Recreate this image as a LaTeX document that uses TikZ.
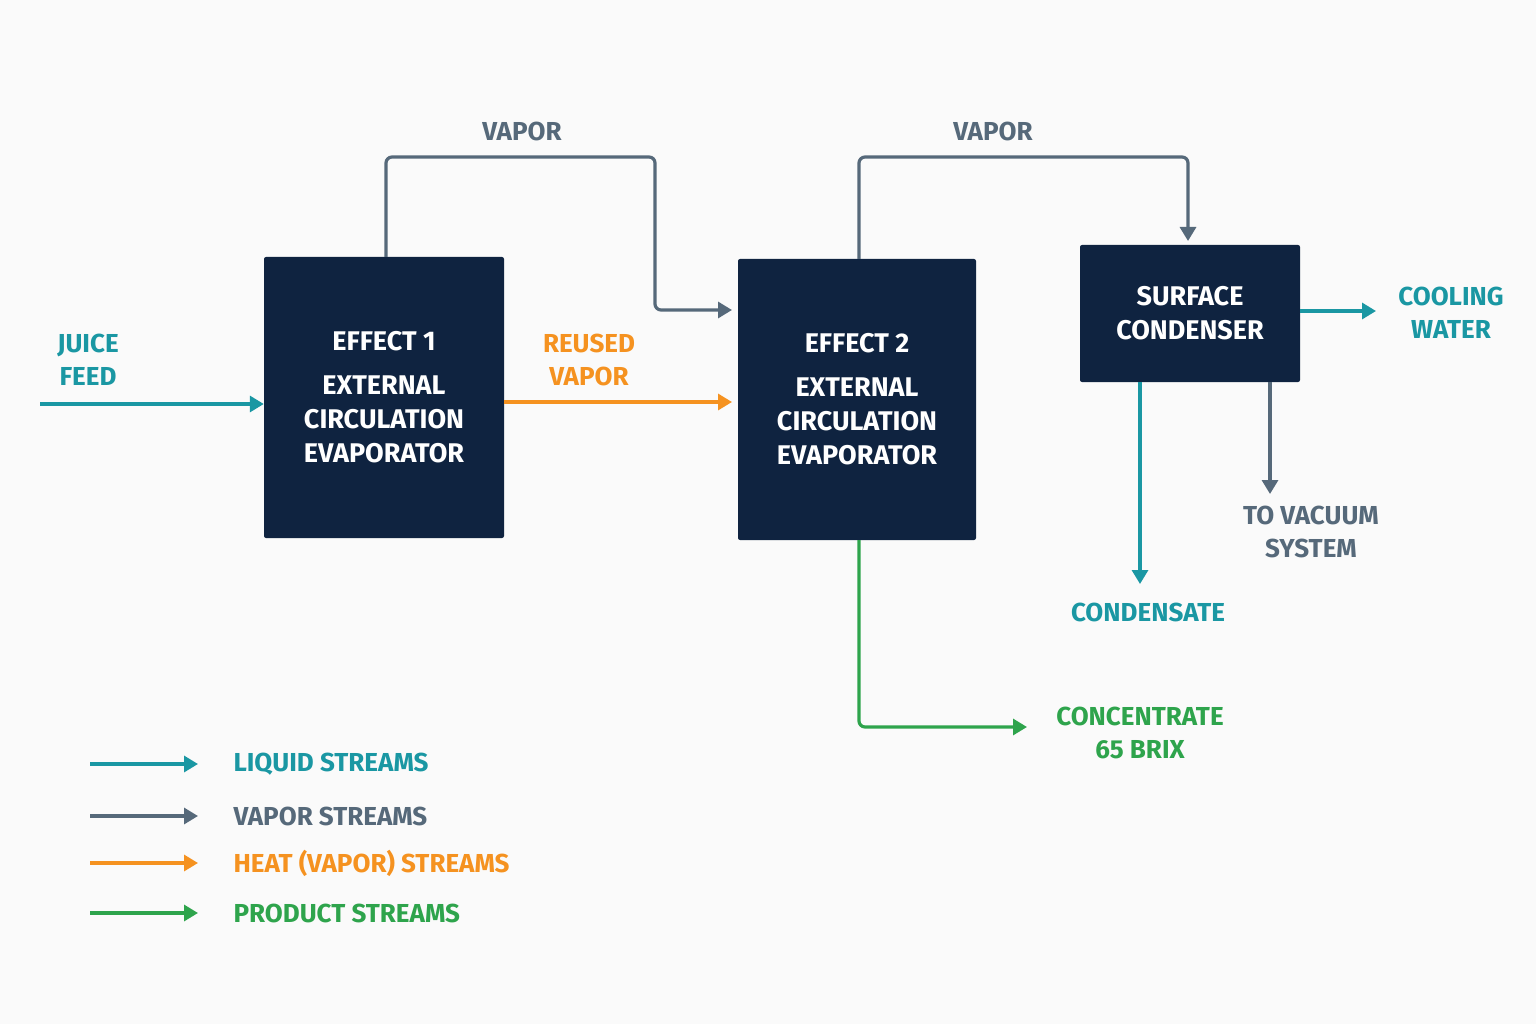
\documentclass[tikz,border=0pt]{standalone}
\usepackage{fontspec}
\setmainfont{Fira Sans}
\usetikzlibrary{arrows.meta}
\definecolor{navy}{HTML}{0F2340}
\definecolor{teal}{HTML}{1A97A3}
\definecolor{vgray}{HTML}{56697A}
\definecolor{orng}{HTML}{F59220}
\definecolor{grn}{HTML}{2EA44C}
\begin{document}
\begin{tikzpicture}[x=1pt,y=-1pt,
  box/.style={fill=navy,rounded corners=2pt,text=white,font=\fontsize{27}{34}\selectfont\bfseries,align=center,inner sep=0},
  lbl/.style={font=\fontsize{26}{33}\selectfont\bfseries,align=center},
  ln/.style={line width=3.2pt,rounded corners=6pt,-{Triangle[length=14pt,width=16pt]}},
  liq/.style={ln,draw=teal},vap/.style={ln,draw=vgray},ht/.style={ln,draw=orng},prd/.style={ln,draw=grn}]
\fill[fill={rgb,255:red,250;green,250;blue,250}] (0,0) rectangle (1536,1024);
\node[box,minimum width=240pt,minimum height=281pt] (e1) at (384,397.5) {EFFECT 1\\[10pt]EXTERNAL\\CIRCULATION\\EVAPORATOR};
\node[box,minimum width=238pt,minimum height=281pt] (e2) at (857,399.5) {EFFECT 2\\[10pt]EXTERNAL\\CIRCULATION\\EVAPORATOR};
\node[box,minimum width=220pt,minimum height=137pt] (sc) at (1190,313.5) {SURFACE\\CONDENSER};
\coordinate (jf) at (40,404);
\coordinate (v1) at (386,257);
\coordinate (v2) at (859,259);
\coordinate (cwE) at (1376,311);
\coordinate (cdE) at (1140,584);
\coordinate (vsE) at (1270,494);
\coordinate (ccE) at (1027,727);
\node[lbl,text=teal] (jfl) at (88,360) {JUICE\\FEED};
\node[lbl,text=orng] (rvl) at (589,360) {REUSED\\VAPOR};
\node[lbl,text=vgray] (vl1) at (522,131) {VAPOR};
\node[lbl,text=vgray] (vl2) at (993,131) {VAPOR};
\node[lbl,text=teal] (cwl) at (1451,313) {COOLING\\WATER};
\node[lbl,text=teal] (cdl) at (1148,612) {CONDENSATE};
\node[lbl,text=vgray] (vsl) at (1311,532) {TO VACUUM\\SYSTEM};
\node[lbl,text=grn] (ccl) at (1140,733) {CONCENTRATE\\65 BRIX};
\draw[liq] (jf) -- (e1.west |- jf);
\draw[ht] (e1.east |- 0,402) -- (732,402);
\draw[vap] (v1) -- (386,157) -- (655,157) -- (655,310) -- (732,310);
\draw[vap] (v2) -- (859,157) -- (1188,157) -- (1188,241);
\draw[liq] (sc.east |- cwE) -- (cwE);
\draw[liq] (sc.south -| cdE) -- (cdE);
\draw[vap] (sc.south -| vsE) -- (vsE);
\draw[prd] (e2.south -| 859,0) -- (859,727) -- (ccE);
\foreach \y/\s/\t in {764/liq/LIQUID STREAMS,816/vap/VAPOR STREAMS,863/ht/HEAT (VAPOR) STREAMS,913/prd/PRODUCT STREAMS}{
  \coordinate (a\y) at (90,\y); \coordinate (b\y) at (198,\y);
  \draw[\s] (a\y) -- (b\y);
}
\node[lbl,text=teal,anchor=west] (lg1) at (230,764) {LIQUID STREAMS};
\node[lbl,text=vgray,anchor=west] (lg2) at (230,816) {VAPOR STREAMS};
\node[lbl,text=orng,anchor=west] (lg3) at (230,863) {HEAT (VAPOR) STREAMS};
\node[lbl,text=grn,anchor=west] (lg4) at (230,913) {PRODUCT STREAMS};
\end{tikzpicture}
\end{document}
